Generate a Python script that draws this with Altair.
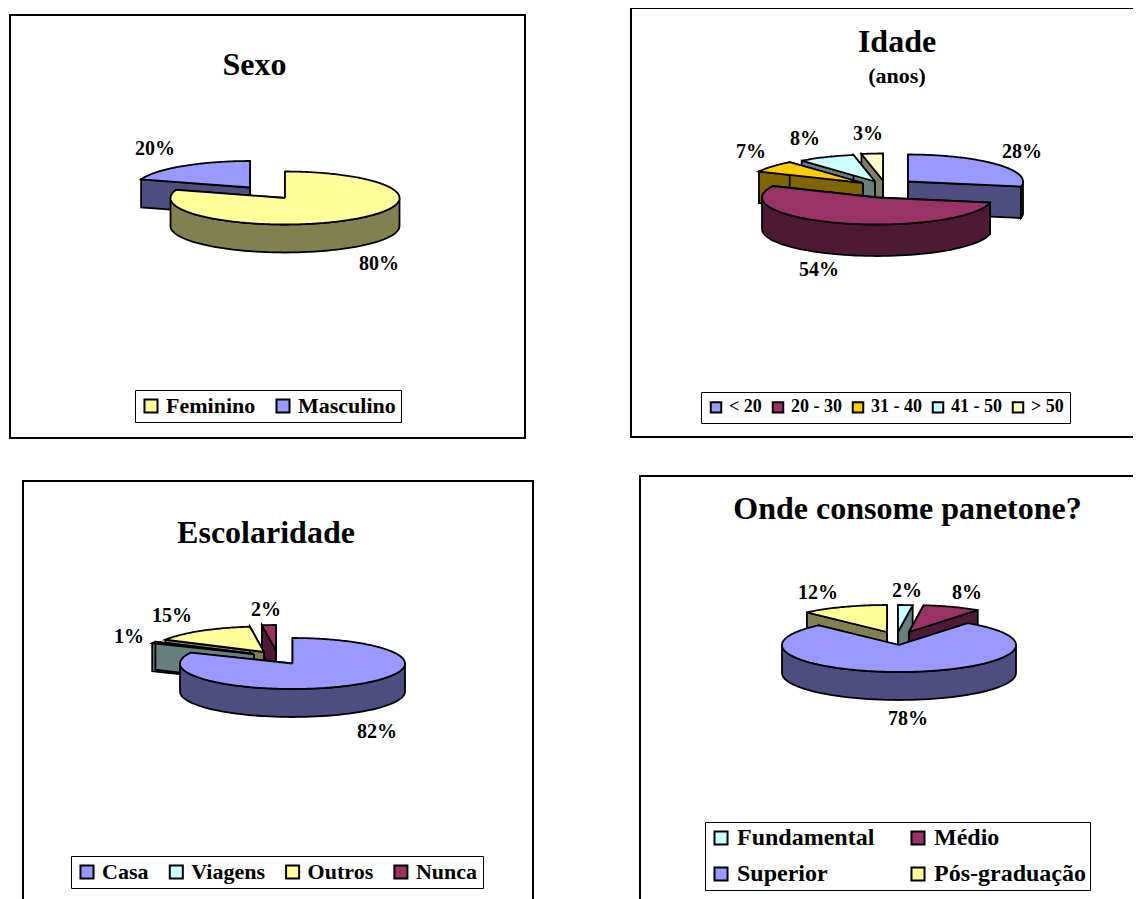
import math
import altair as alt
import pandas as pd

SERIF = "Liberation Serif"

# --- values ---
sexo_cats = ["Feminino", "Masculino"]
sexo_vals = [80, 20]
idade_cats = ["< 20", "20 - 30", "31 - 40", "41 - 50", "> 50"]
idade_vals = [28, 54, 7, 8, 3]
esc_cats = ["Casa", "Viagens", "Outros", "Nunca"]
esc_vals = [82, 1, 15, 2]
onde_cats = ["Fundamental", "Médio", "Superior", "Pós-graduação"]
onde_vals = [2, 8, 78, 12]

# --- colours ---
PURPLE = ("#9999FF", "#4D4D80")
MAROON = ("#993366", "#4D1933")
YELLOW = ("#FFFF99", "#808050")
ORANGE = ("#FFCC00", "#806600")
CYAN = ("#CCFFFF", "#668080")
CREAM = ("#FFFFCC", "#808066")


def ell(c, rx, ry, a, dz=0):
    t = math.radians(a)
    return (c[0] + rx * math.sin(t), c[1] - ry * math.cos(t) + dz)


def panel(title, subtitle, cats, vals, colors, origin, size, rx, ry, depth,
          centers, paint, labels, legend, offset, dx):
    ox, oy = origin
    W, H = size
    rows = []
    pid = 0

    def add(points, key):
        nonlocal pid
        pid += 1
        pts = points + [points[0]]
        for i, (x, y) in enumerate(pts):
            rows.append({"x": x - ox, "y": y - oy, "i": i, "pid": pid, "key": key})

    starts, acc = [], 0.0
    for v in vals:
        starts.append(acc)
        acc += v * 3.6

    for idx in paint:
        a0, a1 = starts[idx], starts[idx] + vals[idx] * 3.6
        c = centers[idx]
        cat = cats[idx]
        side = cat + " (lado)"
        for a in (a0, a1):
            add([c, ell(c, rx, ry, a), ell(c, rx, ry, a, depth), (c[0], c[1] + depth)], side)
        f0, f1 = max(a0, 90), min(a1, 270)
        if f1 > f0:
            steps = [f0 + (f1 - f0) * k / 60 for k in range(61)]
            add([ell(c, rx, ry, a) for a in steps] +
                [ell(c, rx, ry, a, depth) for a in reversed(steps)], side)
        n = max(4, int(a1 - a0))
        add([c] + [ell(c, rx, ry, a0 + (a1 - a0) * k / n) for k in range(n + 1)], cat)

    domain = list(cats) + [c + " (lado)" for c in cats]
    rng = [col[0] for col in colors] + [col[1] for col in colors]

    x = alt.X("x:Q", axis=None, scale=alt.Scale(domain=[0, W], nice=False, zero=False))
    y = alt.Y("y:Q", axis=None, scale=alt.Scale(domain=[H, 0], nice=False, zero=False))

    pies = alt.Chart(pd.DataFrame(rows)).mark_line(
        stroke="black", strokeWidth=1.8, strokeJoin="miter", clip=False
    ).encode(
        x=x, y=y, order=alt.Order("i:Q"), detail="pid:N",
        fill=alt.Fill(
            "key:N",
            scale=alt.Scale(domain=domain, range=rng),
            legend=alt.Legend(
                values=list(cats), title=None, orient="none",
                legendX=legend["x"] - ox, legendY=legend["y"] - oy,
                direction="horizontal", columns=legend["columns"],
                symbolType="square", symbolSize=legend["sym"],
                symbolStrokeColor="black", symbolStrokeWidth=2,
                labelFont=SERIF, labelFontWeight="bold",
                labelFontSize=legend["font"], labelColor="black",
                labelOffset=legend.get("lo", 4), columnPadding=legend["cp"],
                rowPadding=legend.get("rp", 4), padding=legend["pad"],
                strokeColor="black", fillColor="white", labelLimit=300,
            ),
        ),
    )

    lab = pd.DataFrame({
        "x": [labels[i][0] - ox for i in range(len(vals))],
        "y": [labels[i][1] - oy for i in range(len(vals))],
        "t": [f"{v}%" for v in vals],
    })
    texts = alt.Chart(lab).mark_text(
        font=SERIF, fontWeight="bold", fontSize=20, color="black"
    ).encode(x=x, y=y, text="t:N")

    return alt.layer(pies, texts).properties(
        width=W, height=H,
        view=alt.ViewBackground(stroke="black", strokeWidth=2, fill="white"),
        title=alt.TitleParams(
            text=title, subtitle=subtitle if subtitle else alt.Undefined,
            font=SERIF, fontWeight="bold", fontSize=32, color="black",
            subtitleFont=SERIF, subtitleFontWeight="bold", subtitleFontSize=22,
            subtitleColor="black", subtitlePadding=7,
            anchor="middle", frame="group", orient="top",
            offset=offset, dx=dx,
        ),
    )


def blank(w, h):
    return alt.Chart(pd.DataFrame({"a": [0]})).mark_point(opacity=0, size=0).encode(
        x=alt.value(0), y=alt.value(0)
    ).properties(width=w, height=h)


p1 = panel("Sexo", None, sexo_cats, sexo_vals, [YELLOW, PURPLE], (10, 15), (515, 423),
           114.5, 26.5, 28,
           {0: (285, 198), 1: (250, 187.5)}, [1, 0],
           {0: (379, 264), 1: (155, 149)},
           dict(x=135, y=397, columns=2, sym=170, font=22, cp=16, pad=5), -67, -13)
p2 = panel("Idade", "(anos)", idade_cats, idade_vals, [PURPLE, MAROON, ORANGE, CYAN, CREAM],
           (631, 7.5), (514, 429), 115, 27, 31.5,
           {0: (908, 181), 1: (877, 197), 2: (863, 182.5), 3: (875, 181), 4: (883, 180)},
           [0, 4, 3, 2, 1],
           {0: (1022, 151), 1: (819, 269), 2: (751, 151), 3: (805, 138), 4: (868, 133)},
           dict(x=701, y=391.5, columns=5, sym=110, font=18, cp=6, pad=6), -80, 9)
p3 = panel("Escolaridade", None, esc_cats, esc_vals, [PURPLE, CYAN, YELLOW, MAROON],
           (23, 481), (510, 430), 112.5, 25.5, 28,
           {0: (292.5, 663.5), 1: (254, 654), 2: (264, 652), 3: (276, 650.5)},
           [3, 2, 1, 0],
           {0: (377, 732), 1: (129, 637), 2: (172, 616), 3: (266, 610)},
           dict(x=71, y=861, columns=4, sym=170, font=22, cp=16.3, pad=5), -69, -12)
p4 = panel("Onde consome panetone?", None, onde_cats, onde_vals, [CYAN, MAROON, PURPLE, YELLOW],
           (640, 476), (505, 435), 117, 27, 28,
           {0: (898, 632), 1: (909, 632), 2: (899, 645), 3: (887, 632)},
           [3, 0, 1, 2],
           {0: (907, 591), 1: (967, 593), 2: (908, 719), 3: (818, 593)},
           dict(x=705, y=822, columns=2, sym=170, font=24, cp=31, pad=4, rp=12), -50, 15)

row1 = alt.hconcat(blank(2, 1), alt.vconcat(blank(1, 6), p1, spacing=0), blank(104, 1), p2, spacing=0)
row2 = alt.hconcat(blank(15, 1), alt.vconcat(blank(1, 4), p3, spacing=0), blank(105, 1), p4, spacing=0)

chart = (
    alt.vconcat(row1.resolve_scale(fill="independent").resolve_legend(fill="independent"),
                row2.resolve_scale(fill="independent").resolve_legend(fill="independent"),
                spacing=36)
    .resolve_scale(fill="independent").resolve_legend(fill="independent")
    .properties(padding={"left": -1, "top": -1, "right": -13, "bottom": 0})
    .configure_view(stroke=None)
)
chart.save("out.html", embed_options={"renderer": "svg", "actions": False})
